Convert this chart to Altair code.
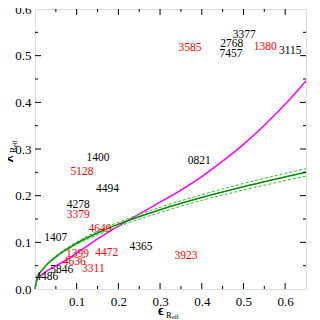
import altair as alt
import pandas as pd

# magenta curve
mag_eps = [0, 0.005, 0.02, 0.045, 0.075, 0.115, 0.155, 0.195, 0.235, 0.3, 0.35, 0.4, 0.45, 0.5, 0.55, 0.6, 0.65]
mag_lam = [0, 0.02, 0.033, 0.047, 0.062, 0.086, 0.110, 0.132, 0.153, 0.186, 0.212, 0.241, 0.274, 0.310, 0.351, 0.396, 0.446]

# green curves
grn_eps = [0, 0.005, 0.02, 0.05, 0.1, 0.15, 0.2, 0.3, 0.4, 0.5, 0.65]
grn_mid = [0, 0.022, 0.044, 0.069, 0.098, 0.120, 0.139, 0.170, 0.196, 0.219, 0.250]
grn_up = [0, 0.023, 0.045, 0.071, 0.101, 0.124, 0.143, 0.175, 0.202, 0.226, 0.258]
grn_lo = [0, 0.021, 0.042, 0.067, 0.095, 0.116, 0.134, 0.164, 0.190, 0.212, 0.242]

# galaxy labels
lab_text = ["3377", "2768", "7457", "3585", "1380", "3115", "1400", "0821", "5128", "4494",
            "4278", "3379", "4649", "1407", "1399", "4472", "4636", "3311", "5846", "4486",
            "4365", "3923"]
lab_eps = [0.502, 0.472, 0.470, 0.372, 0.552, 0.612, 0.151, 0.394, 0.113, 0.174,
           0.104, 0.104, 0.156, 0.050, 0.102, 0.172, 0.094, 0.140, 0.064, 0.028,
           0.254, 0.362]
lab_lam = [0.545, 0.526, 0.503, 0.517, 0.519, 0.510, 0.280, 0.274, 0.251, 0.214,
           0.181, 0.158, 0.128, 0.109, 0.076, 0.078, 0.058, 0.043, 0.041, 0.025,
           0.089, 0.071]
lab_col = ["black", "black", "black", "red", "red", "black", "black", "black", "red", "black",
           "black", "red", "red", "black", "red", "red", "red", "red", "black", "black",
           "black", "red"]

x_major = [0.1, 0.2, 0.3, 0.4, 0.5, 0.6]
x_minor = [0.05, 0.15, 0.25, 0.35, 0.45, 0.55]
y_major = [0.1, 0.2, 0.3, 0.4, 0.5]
y_minor = [0.05, 0.15, 0.25, 0.35, 0.45, 0.55]

W, H = 271, 280
FONT = "serif"

xs = alt.Scale(domain=[0, 0.65], nice=False, zero=False)
ys = alt.Scale(domain=[0, 0.6], nice=False, zero=False)

X = alt.X("x:Q", scale=xs, axis=alt.Axis(values=x_major, format=".1f", ticks=False, domain=False,
                                         grid=False, labelFont=FONT, labelFontSize=13,
                                         labelColor="black", labelPadding=6, title=None))
Y = alt.Y("y:Q", scale=ys, axis=alt.Axis(values=[0, 0.1, 0.2, 0.3, 0.4, 0.5, 0.6], format=".1f",
                                         ticks=False, domain=False, grid=False, labelFont=FONT,
                                         labelFontSize=13, labelColor="black", labelPadding=4,
                                         title=None))

mag_df = pd.DataFrame({"x": mag_eps, "y": mag_lam})
g_mid = pd.DataFrame({"x": grn_eps, "y": grn_mid})
g_dash = pd.concat([
    pd.DataFrame({"x": grn_eps, "y": grn_up, "s": "up"}),
    pd.DataFrame({"x": grn_eps, "y": grn_lo, "s": "lo"}),
])

mag = alt.Chart(mag_df).mark_line(color="#ff00ff", strokeWidth=1.5, interpolate="monotone").encode(x=X, y=Y)
gm = alt.Chart(g_mid).mark_line(color="#008800", strokeWidth=1.5, interpolate="monotone").encode(
    x=alt.X("x:Q", scale=xs), y=alt.Y("y:Q", scale=ys))
gd = alt.Chart(g_dash).mark_line(color="#33bb33", strokeWidth=1, strokeDash=[3, 2],
                                 interpolate="monotone").encode(
    x=alt.X("x:Q", scale=xs), y=alt.Y("y:Q", scale=ys), detail="s:N")

lab_df = pd.DataFrame({"x": lab_eps, "y": lab_lam, "t": lab_text, "c": lab_col})
labels = alt.Chart(lab_df).mark_text(font=FONT, fontSize=11.5, baseline="middle", align="center").encode(
    x=alt.X("x:Q", scale=xs), y=alt.Y("y:Q", scale=ys), text="t:N",
    color=alt.Color("c:N", scale=alt.Scale(domain=["black", "red"], range=["#000000", "#ff0000"]),
                    legend=None))

# tick marks (inward)
def xticks(vals, length):
    df = pd.DataFrame({"x": vals})
    bot = alt.Chart(df).mark_rule(color="black", strokeWidth=1).encode(
        x=alt.X("x:Q", scale=xs), y=alt.value(H), y2=alt.value(H - length))
    top = alt.Chart(df).mark_rule(color="black", strokeWidth=1).encode(
        x=alt.X("x:Q", scale=xs), y=alt.value(0), y2=alt.value(length))
    return bot + top

def yticks(vals, length):
    df = pd.DataFrame({"y": vals})
    left = alt.Chart(df).mark_rule(color="black", strokeWidth=1).encode(
        y=alt.Y("y:Q", scale=ys), x=alt.value(0), x2=alt.value(length))
    right = alt.Chart(df).mark_rule(color="black", strokeWidth=1).encode(
        y=alt.Y("y:Q", scale=ys), x=alt.value(W), x2=alt.value(W - length))
    return left + right

ticks = xticks(x_major, 6) + xticks(x_minor, 3) + yticks(y_major, 6) + yticks(y_minor, 3)

# axis titles
tdf = pd.DataFrame({"a": [0]})
xt1 = alt.Chart(tdf).mark_text(text="ϵ", font=FONT, fontSize=14, fontWeight="bold", align="center",
                               baseline="alphabetic").encode(x=alt.value(126), y=alt.value(306))
xt2 = alt.Chart(tdf).mark_text(text="R", font=FONT, fontSize=9, align="left",
                               baseline="alphabetic").encode(x=alt.value(131), y=alt.value(309))
xt3 = alt.Chart(tdf).mark_text(text="eff", font=FONT, fontSize=6, align="left",
                               baseline="alphabetic").encode(x=alt.value(137), y=alt.value(310))
yt1 = alt.Chart(tdf).mark_text(text="λ", font=FONT, fontSize=14, fontWeight="bold", align="center",
                               baseline="alphabetic", angle=270).encode(x=alt.value(-22), y=alt.value(150))
yt2 = alt.Chart(tdf).mark_text(text="R", font=FONT, fontSize=9, align="left",
                               baseline="alphabetic", angle=270).encode(x=alt.value(-19), y=alt.value(144))
yt3 = alt.Chart(tdf).mark_text(text="eff", font=FONT, fontSize=6, align="left",
                               baseline="alphabetic", angle=270).encode(x=alt.value(-18), y=alt.value(138))

chart = alt.layer(mag, gm, gd, labels, ticks, xt1, xt2, xt3, yt1, yt2, yt3).properties(
    width=W, height=H,
    autosize=alt.AutoSizeParams(type="none"),
    padding={"left": 27, "top": 1, "right": 6, "bottom": 30},
).configure_view(stroke="black", strokeWidth=1.2).configure(background="white", font=FONT)

chart.save("out.html", embed_options={"renderer": "svg", "actions": False})
